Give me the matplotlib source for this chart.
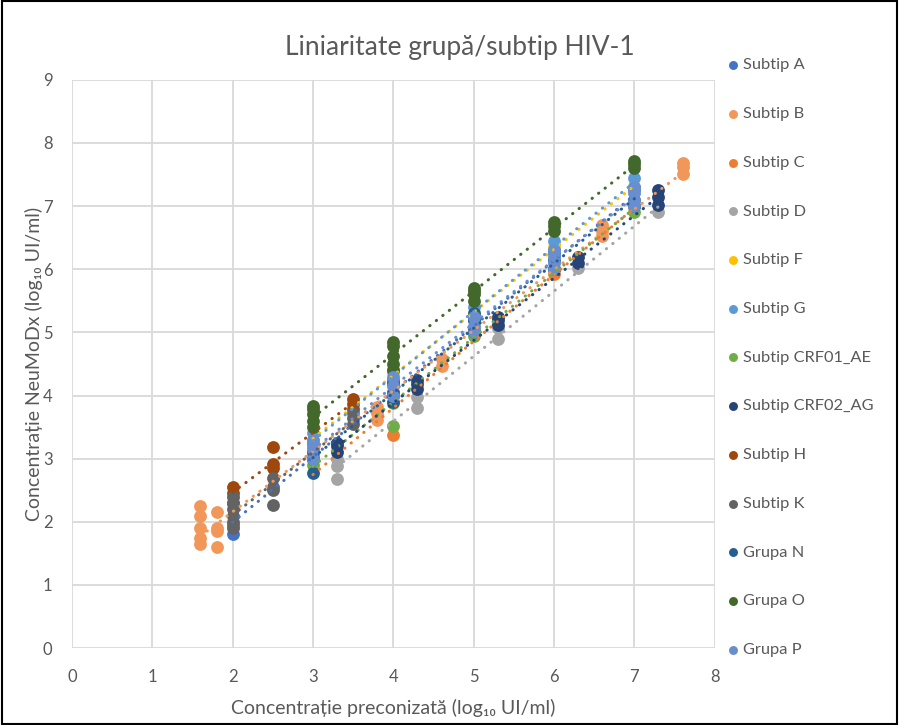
import numpy as np
import matplotlib
matplotlib.use("Agg")
import matplotlib.pyplot as plt
from matplotlib.patches import Rectangle

plt.rcParams['font.family'] = ['Lato', 'DejaVu Sans']

# DATA: (expected log10 conc, measured log10 conc) per series
names = ['Subtip A', 'Subtip B', 'Subtip C', 'Subtip D', 'Subtip F', 'Subtip G',
         'Subtip CRF01_AE', 'Subtip CRF02_AG', 'Subtip H', 'Subtip K',
         'Grupa N', 'Grupa O', 'Grupa P']
colors = ['#4472C4', '#F1975A', '#ED7D31', '#A5A5A5', '#FFC000', '#5B9BD5',
          '#70AD47', '#264478', '#9E480E', '#636363', '#255E91', '#43682B', '#698ED0']

subtip_a_x = [2, 2, 3, 3, 4, 4, 5, 5, 6, 6, 7, 7]
subtip_a_y = [1.80, 1.95, 3.00, 3.25, 4.00, 4.25, 5.00, 5.25, 6.00, 6.25, 7.00, 7.25]

subtip_b_x = [1.6, 1.6, 1.6, 1.6, 1.6, 1.8, 1.8, 1.8, 1.8, 3.8, 3.8, 3.8,
              4.6, 4.6, 6.6, 6.6, 6.6, 7.6, 7.6, 7.6]
subtip_b_y = [1.65, 1.75, 1.90, 2.10, 2.25, 1.60, 1.85, 1.90, 2.15, 3.62, 3.72, 3.82,
              4.47, 4.58, 6.52, 6.60, 6.70, 7.50, 7.62, 7.68]

subtip_c_x = [3, 4, 5, 6, 7]
subtip_c_y = [3.00, 3.37, 5.00, 5.92, 7.00]

subtip_d_x = [3.3, 3.3, 3.3, 4.3, 4.3, 5.3, 5.3, 6.3, 7.3]
subtip_d_y = [2.68, 2.88, 3.00, 3.80, 3.98, 4.90, 5.07, 6.02, 6.90]

subtip_f_x = [3, 4, 5, 6, 7]
subtip_f_y = [3.30, 4.35, 5.30, 6.35, 7.30]

subtip_g_x = [3, 3, 4, 4, 5, 5, 6, 6, 7, 7]
subtip_g_y = [3.20, 3.40, 4.20, 4.40, 5.20, 5.40, 6.30, 6.45, 7.30, 7.45]

crf01_x = [3, 3, 4, 4, 5, 5, 6, 7, 7]
crf01_y = [2.90, 3.05, 3.52, 3.88, 4.95, 5.05, 6.00, 6.90, 7.00]

crf02_x = [3.3, 3.3, 3.3, 4.3, 4.3, 4.3, 5.3, 5.3, 5.3, 6.3, 6.3, 7.3, 7.3, 7.3]
crf02_y = [3.10, 3.20, 3.25, 4.10, 4.18, 4.25, 5.12, 5.20, 5.25, 6.10, 6.20, 7.02, 7.15, 7.25]

subtip_h_x = [2, 2, 2, 2.5, 2.5, 2.5, 3.5, 3.5, 3.5]
subtip_h_y = [2.30, 2.45, 2.55, 2.85, 2.92, 3.19, 3.78, 3.87, 3.95]

subtip_k_x = [2, 2, 2, 2, 2, 2, 2.5, 2.5, 2.5, 2.5, 3.5, 3.5, 3.5]
subtip_k_y = [1.90, 2.00, 2.10, 2.20, 2.30, 2.40, 2.27, 2.50, 2.55, 2.70, 3.55, 3.65, 3.72]

grupa_n_x = [3, 3, 3, 4, 4, 4, 5, 5, 5, 6, 6, 7, 7]
grupa_n_y = [2.78, 3.00, 3.10, 3.90, 4.05, 4.20, 5.00, 5.20, 5.30, 6.00, 6.15, 7.00, 7.10]

grupa_o_x = [3, 3, 3, 3, 3, 4, 4, 4, 4, 4, 5, 5, 5, 5, 6, 6, 6, 7, 7, 7]
grupa_o_y = [3.50, 3.60, 3.70, 3.78, 3.83, 4.40, 4.50, 4.62, 4.78, 4.85,
             5.50, 5.60, 5.65, 5.70, 6.60, 6.68, 6.75, 7.60, 7.66, 7.72]

grupa_p_x = [3, 3, 3, 4, 4, 4, 5, 5, 5, 6, 6, 6, 6, 7, 7, 7, 7]
grupa_p_y = [3.00, 3.15, 3.30, 4.00, 4.15, 4.30, 5.00, 5.10, 5.25,
             6.00, 6.10, 6.20, 6.30, 7.00, 7.10, 7.20, 7.30]

xs = [subtip_a_x, subtip_b_x, subtip_c_x, subtip_d_x, subtip_f_x, subtip_g_x,
      crf01_x, crf02_x, subtip_h_x, subtip_k_x, grupa_n_x, grupa_o_x, grupa_p_x]
ys = [subtip_a_y, subtip_b_y, subtip_c_y, subtip_d_y, subtip_f_y, subtip_g_y,
      crf01_y, crf02_y, subtip_h_y, subtip_k_y, grupa_n_y, grupa_o_y, grupa_p_y]

text_gray = '#595959'

fig = plt.figure(figsize=(8.99, 7.25), dpi=100)
ax = fig.add_axes([0.080, 0.106, 0.715, 0.784])

for name, c, x, y in zip(names, colors, xs, ys):
    ax.scatter(x, y, s=85, color=c, label=name, zorder=3, linewidths=0)

# linear trendlines (dotted)
for c, x, y in zip(colors, xs, ys):
    k, b = np.polyfit(x, y, 1)
    xx = np.array([min(x), max(x)])
    ax.plot(xx, k * xx + b, color=c, linewidth=2.2, linestyle=(0, (0.1, 2.6)),
            dash_capstyle='round', zorder=4)

ax.set_xlim(0, 8)
ax.set_ylim(0, 9)
ax.set_xticks(range(0, 9))
ax.set_yticks(range(0, 10))
ax.grid(True, color='#D9D9D9', linewidth=1.3)
ax.set_axisbelow(True)
for s in ax.spines.values():
    s.set_visible(False)
ax.tick_params(length=0, labelsize=12, labelcolor=text_gray)
ax.tick_params(axis='x', pad=15)
ax.tick_params(axis='y', pad=14)

fig.text(460 / 899, 1 - 47 / 725, 'Liniaritate grupă/subtip HIV-1', fontsize=19,
         color=text_gray, ha='center', va='center')
ax.set_xlabel('Concentrație preconizată (log₁₀ UI/ml)', fontsize=14, color=text_gray, labelpad=10)
ax.set_ylabel('Concentrație NeuMoDx (log₁₀ UI/ml)', fontsize=14, color=text_gray, labelpad=0)

leg = ax.legend(loc='upper left', bbox_to_anchor=(1.006, 1.05), frameon=False,
                fontsize=11.8, labelcolor=text_gray, handletextpad=0.1,
                labelspacing=2.09, markerscale=0.7, handlelength=1.0,
                borderaxespad=0)

fig.add_artist(Rectangle((0.002, 0.002), 0.996, 0.996, transform=fig.transFigure,
                         fill=False, edgecolor='black', linewidth=1.5))

fig.savefig('out.png', dpi=100)
